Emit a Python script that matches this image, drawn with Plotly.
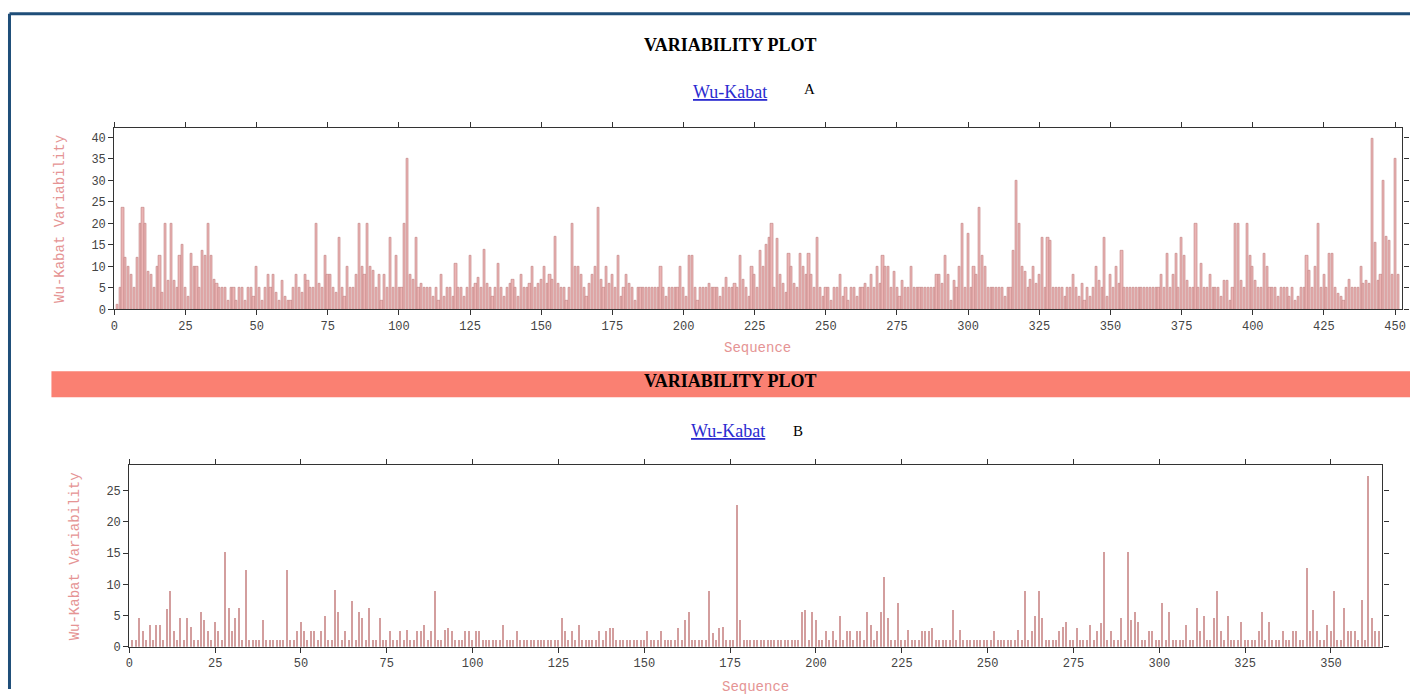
import plotly.graph_objects as go

W, H = 1413, 697

# ---------------- data ----------------
# Panel A: Wu-Kabat variability, positions 1..451
var_a = [
    1, 5, 23.6, 12, 10, 8, 5, 12, 20, 23.6, 20, 8.7, 8, 5, 10, 12.5, 4, 20, 6.7, 20, 6.7, 5, 12.5, 15, 5,
    3, 13, 10, 10, 5, 13.7, 12.5, 20, 12.5, 7, 6, 5, 5, 5, 2, 5, 5, 2, 5, 5, 2, 5, 5, 3, 10,
    5, 2, 5, 8, 5, 8, 4, 2, 6.7, 3, 2, 2, 5, 8, 5, 4, 8, 6.7, 5, 5, 20, 6, 5, 12.5, 8,
    8, 5, 4, 16.8, 5, 3, 10, 5, 5, 8, 20, 10, 8, 20, 10, 9, 5, 8, 2, 8, 5, 16.8, 5, 12.5, 5,
    5, 20, 35, 8, 7, 16.8, 5, 6, 5, 5, 5, 3, 5, 2, 8, 3, 5, 5, 3, 10.6, 5, 5, 3, 5, 12.5,
    5, 6, 7.5, 5, 14, 6, 5, 3, 5, 10.6, 5, 3, 5, 6, 7, 5, 3, 8, 5, 5, 6, 10, 5, 6, 7,
    10, 6, 8, 7, 17, 6, 5, 5, 2, 5, 20, 10, 10, 8, 5, 3, 6, 8, 10, 23.6, 7, 5, 10, 6, 8,
    5, 12.5, 3, 5, 8, 6, 5, 2, 5, 5, 5, 5, 5, 5, 5, 5, 10, 5, 3, 5, 5, 5, 5, 10, 5,
    3, 12.5, 12.5, 5, 2, 5, 5, 5, 6, 5, 5, 5, 3, 5, 7.5, 5, 5, 6, 5, 12.5, 7, 5, 3, 10, 8,
    5, 13.7, 10, 15, 16.8, 20, 5, 16.4, 8, 6, 4, 13, 10, 6, 5, 13, 10, 8, 13, 8, 5, 16.8, 5, 3, 5,
    5, 2, 5, 5, 8, 3, 5, 2, 5, 5, 3, 5, 5, 6, 5, 8, 5, 10, 6, 12.5, 10, 10, 5, 8.7, 5,
    3, 6.7, 5, 5, 10, 5, 5, 5, 5, 5, 5, 5, 5, 8, 8, 6, 12.5, 8, 2, 6.7, 5, 10, 20, 5, 17.6,
    5, 10, 8, 23.6, 12.5, 10, 5, 5, 5, 5, 5, 5, 3, 5, 5, 13.7, 30, 20, 10, 8.7, 5, 7, 10, 6, 8,
    16.8, 5, 16.8, 16, 5, 5, 5, 5, 3, 5, 5, 8, 5, 3, 6, 2, 5, 3, 5, 10, 6.7, 5, 16.8, 3, 8,
    5, 10, 6, 13.7, 5, 5, 5, 5, 5, 5, 5, 5, 5, 5, 5, 5, 5, 8, 5, 13, 5, 8, 13, 5, 16.8,
    12.5, 6.7, 5, 5, 20, 5, 10.6, 5, 5, 8, 5, 5, 5, 3, 6.7, 6.7, 2, 5, 20, 20, 6.7, 5, 20, 12.5, 10,
    6.7, 5, 5, 13, 10, 5, 5, 5, 3, 5, 5, 5, 3, 5, 2, 3, 5, 5, 12.5, 9, 5, 10, 20, 5, 8,
    5, 13, 13, 5, 3.6, 3, 2, 5, 7, 5, 5, 5, 10, 6, 6.7, 6, 39.7, 15.6, 6.7, 8, 30, 17, 16, 8, 35,
    8,
]
pos_a = list(range(1, len(var_a) + 1))

# Panel B: Wu-Kabat variability, positions 1..364
var_b = [
    1, 1, 4.6, 2.5, 1, 3.5, 1, 3.5, 3.5, 1, 6, 8.9, 2.5, 1, 4.6, 1, 4.6, 3.2, 1, 1.1, 5.6, 4.3, 2.5, 1, 4,
    2.5, 1, 15.2, 6.2, 2.5, 4.6, 6.2, 1, 12.3, 1, 1, 1, 1, 4.3, 1, 1, 1, 1, 1, 1, 12.3, 1, 1, 2.5, 4,
    2.5, 1, 2.5, 2.5, 1, 2.5, 4.9, 1, 1, 9.1, 5.6, 1, 2.5, 1, 7.3, 1, 5.6, 4.6, 1, 6.2, 1, 1, 4.6, 1, 1,
    2.5, 1, 1, 2.5, 1, 2.7, 1, 1, 2.5, 2.5, 3.5, 1, 2.5, 8.9, 1, 1, 2.7, 3, 2.5, 1, 1, 1, 2.5, 2.5, 1,
    2.5, 2.5, 1, 1, 1, 1, 1, 1, 3.5, 1, 1, 1, 2.5, 1, 1, 1, 1, 1, 1, 1, 1, 1, 1, 1, 1,
    4.6, 2.5, 1, 2.5, 1, 3.5, 1, 1, 1, 1, 1, 2.5, 1, 2.5, 3, 3, 1, 1, 1, 1, 1, 1, 1, 1, 1,
    2.5, 1, 1, 1, 2.5, 1, 1, 1, 1, 3, 1, 4.3, 5.6, 1, 1, 1, 1, 1, 8.9, 2.2, 1, 3, 3.2, 1, 1,
    1, 22.7, 4.3, 1, 1, 1, 1, 1, 1, 1, 1, 1, 1, 1, 1, 1, 1, 1, 1, 1, 5.6, 5.9, 1, 5.6, 4.3,
    1, 1, 2.5, 1, 2.5, 1, 4.9, 1, 2.5, 2.5, 1, 2.5, 2.5, 1, 5.6, 3.5, 1, 2.5, 5.6, 11.2, 4.6, 1, 1, 7, 1,
    1, 2.7, 1, 1, 1, 2.5, 2.5, 2.5, 3, 1, 1, 1, 1, 1, 5.9, 1, 2.7, 1, 1, 1, 1, 1, 1, 1, 1,
    1, 2.5, 1, 1, 1, 1, 1, 1, 2.7, 1, 8.9, 1, 2.5, 4.9, 8.9, 4.6, 1, 1, 1, 1, 2.5, 3.2, 4, 1, 1,
    3, 1, 1, 1, 3.5, 1, 2.5, 3.8, 15.2, 1, 2.5, 1, 1, 4.6, 1, 15.2, 4.3, 5.6, 4, 1, 1, 2.5, 2.5, 1, 1,
    7, 1, 5.6, 1, 1, 1, 1, 3.5, 1, 1, 6.2, 2.5, 4.9, 1, 1, 4.6, 8.9, 2.5, 1, 4.9, 1, 1, 1, 4, 1,
    1, 1, 1, 2.5, 5.6, 1, 4, 1, 1, 1, 2.5, 1, 1, 2.5, 2.5, 1, 1, 12.6, 2.5, 5.9, 2.5, 1, 1, 3.5, 2.5,
    8.9, 1, 1, 6.2, 2.5, 2.5, 2.5, 1, 7.5, 1, 27.3, 4.6, 2.5, 2.5,
]
pos_b = list(range(1, len(var_b) + 1))

ticks_a_x = list(range(0, 451, 25))
ticks_a_y = list(range(0, 41, 5))
ticks_b_x = list(range(0, 351, 25))
ticks_b_y = list(range(0, 26, 5))

# ---------------- styling ----------------
MONO = "Liberation Mono, Courier New, monospace"
SERIF = "Liberation Serif, Times New Roman, serif"
PINK = "#e59494"
AXC = "#333333"


def px(x):
    xx = (x - 2.5) / 0.9965
    return min(max(xx / W, 0), 1)


def py(y):
    yy = (y + 0.8) / 0.99
    return min(max(1 - yy / H, 0), 1)


fig = go.Figure()
fig.add_trace(go.Bar(
    x=pos_a, y=var_a, xaxis="x", yaxis="y", width=0.75,
    marker=dict(color="#ebb4b4", line=dict(color="#bf8282", width=0.6)),
    showlegend=False,
))
fig.add_trace(go.Bar(
    x=pos_b, y=var_b, xaxis="x2", yaxis="y2", width=0.32,
    marker=dict(color="#d39e9e", line=dict(width=0)),
    showlegend=False,
))

axis_common = dict(
    showgrid=False, zeroline=False, showline=True, linecolor=AXC, linewidth=1.2,
    mirror="ticks", ticks="outside", ticklen=5, tickcolor=AXC,
    tickfont=dict(family=MONO, size=12, color="#444444"),
)

fig.update_layout(
    width=W, height=H, margin=dict(l=0, r=0, t=0, b=0),
    paper_bgcolor="white", plot_bgcolor="white", bargap=0,
    xaxis=dict(domain=[px(113), px(1403)], range=[0, 452.6], anchor="y",
               tickvals=ticks_a_x, **axis_common),
    yaxis=dict(domain=[py(309), py(127)], range=[0, 42.3], anchor="x",
               tickvals=ticks_a_y, **axis_common),
    xaxis2=dict(domain=[px(128), px(1383)], range=[0, 365], anchor="y2",
                tickvals=ticks_b_x, **axis_common),
    yaxis2=dict(domain=[py(647), py(465)], range=[0, 29.1], anchor="x2",
                tickvals=ticks_b_y, **axis_common),
)

shapes = [
    # blue frame
    dict(type="line", xref="paper", yref="paper", x0=px(8), x1=1, y0=py(13), y1=py(13),
         line=dict(color="#1f4e79", width=3)),
    dict(type="line", xref="paper", yref="paper", x0=px(8), x1=px(8), y0=py(13), y1=0,
         line=dict(color="#1f4e79", width=3)),
    # salmon band
    dict(type="rect", xref="paper", yref="paper", x0=px(50), x1=1, y0=py(397), y1=py(371),
         fillcolor="#fa8072", line=dict(width=0), layer="below"),
]
fig.update_layout(shapes=shapes)

ann = []


def add(text, x, y, size, color="black", family=SERIF, angle=0, xanchor="center"):
    ann.append(dict(text=text, x=px(x), y=py(y), xref="paper", yref="paper",
                    showarrow=False, textangle=angle, xanchor=xanchor, yanchor="middle",
                    font=dict(family=family, size=size, color=color)))


add("<b>VARIABILITY PLOT</b>", 730, 44, 18)
add("<u>Wu-Kabat</u>", 730, 91, 18, color="#2b2bd0")
add("A", 809, 88, 15)
add("<b>VARIABILITY PLOT</b>", 730, 381, 18)
add("<u>Wu-Kabat</u>", 728, 431, 18, color="#2b2bd0")
add("B", 798, 431, 15)
add("Wu-Kabat Variability", 59, 218, 14, color=PINK, family=MONO, angle=-90)
add("Sequence", 757, 348, 14, color=PINK, family=MONO)
add("Wu-Kabat Variability", 74, 556, 14, color=PINK, family=MONO, angle=-90)
add("Sequence", 755, 687, 14, color=PINK, family=MONO)
fig.update_layout(annotations=ann)

fig.write_html(
    "out.html",
    config={"displayModeBar": False},
    post_script="document.body.style.margin='0px';document.body.style.overflow='hidden';",
)
